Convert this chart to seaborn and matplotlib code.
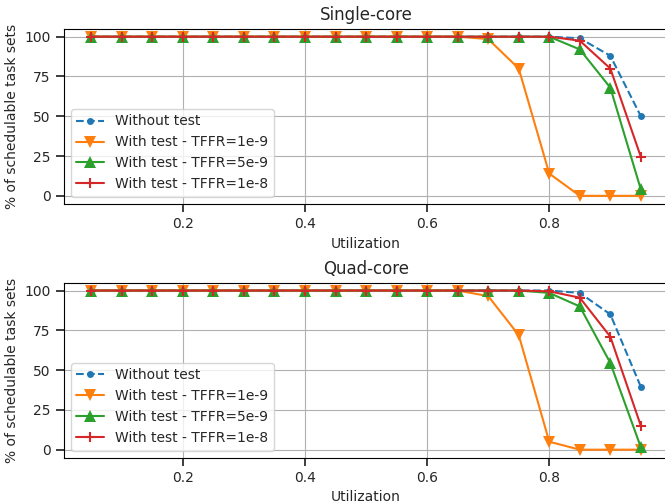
import numpy as np
import pandas as pd
import matplotlib
matplotlib.use("Agg")
import matplotlib.pyplot as plt
import seaborn as sns

utilization = [0.05, 0.10, 0.15, 0.20, 0.25, 0.30, 0.35, 0.40, 0.45, 0.50,
               0.55, 0.60, 0.65, 0.70, 0.75, 0.80, 0.85, 0.90, 0.95]

# Single-core
single_without = [100]*16 + [99, 88, 50]
single_1e9 = [100]*13 + [98.5, 80, 14, 0, 0, 0]
single_5e9 = [100]*16 + [92, 68, 4]
single_1e8 = [100]*16 + [97.5, 80, 24.5]

# Quad-core
quad_without = [100]*16 + [98.5, 85, 39.5]
quad_1e9 = [100]*13 + [96.5, 72, 5, 0, 0, 0]
quad_5e9 = [100]*15 + [98.5, 90, 54.5, 1.5]
quad_1e8 = [100]*15 + [99.5, 95.5, 71, 15]

series_labels = ["Without test", "With test - TFFR=1e-9",
                 "With test - TFFR=5e-9", "With test - TFFR=1e-8"]
titles = ["Single-core", "Quad-core"]
xlabel = "Utilization"
ylabel = "% of schedulable task sets"
yticks = [0, 25, 50, 75, 100]

sns.set_theme(style="ticks", rc={
    "axes.grid": True,
    "grid.color": "#b0b0b0",
    "grid.linewidth": 0.8,
    "axes.edgecolor": "black",
    "axes.linewidth": 0.8,
    "font.size": 10,
    "axes.labelsize": 10,
    "axes.titlesize": 12,
    "xtick.labelsize": 10,
    "ytick.labelsize": 10,
    "legend.fontsize": 10,
})
plt.rcParams["font.family"] = ["DejaVu Sans"]

colors = ["#1f77b4", "#ff7f0e", "#2ca02c", "#d62728"]
styles = [dict(marker="o", linestyle="--", markersize=5, mew=0),
          dict(marker="v", linestyle="-", markersize=8, mew=0),
          dict(marker="^", linestyle="-", markersize=8, mew=0),
          dict(marker="+", linestyle="-", markersize=7, mew=1.5)]

fig, axes = plt.subplots(2, 1, figsize=(6.65, 5.04), dpi=100)
data_sets = [[single_without, single_1e9, single_5e9, single_1e8],
             [quad_without, quad_1e9, quad_5e9, quad_1e8]]

for ax, title, sets in zip(axes, titles, data_sets):
    for vals, lab, col, st in zip(sets, series_labels, colors, styles):
        sns.lineplot(x=utilization, y=vals, ax=ax, color=col, label=lab,
                     linewidth=1.5, markeredgecolor=col, **st)
    ax.set_title(title)
    ax.set_xlabel(xlabel)
    ax.set_ylabel(ylabel)
    ax.set_yticks(yticks)
    ax.set_xticks([0.2, 0.4, 0.6, 0.8])
    ax.set_xlim(0.005, 0.995)
    ax.set_ylim(-5, 105)
    ax.legend(loc="lower left", frameon=True, framealpha=0.8, edgecolor="#cccccc")
    for s in ax.spines.values():
        s.set_visible(True)

fig.subplots_adjust(left=0.096, right=1.005, top=0.943, bottom=0.092, hspace=0.45)
fig.savefig("out.png", dpi=100)
